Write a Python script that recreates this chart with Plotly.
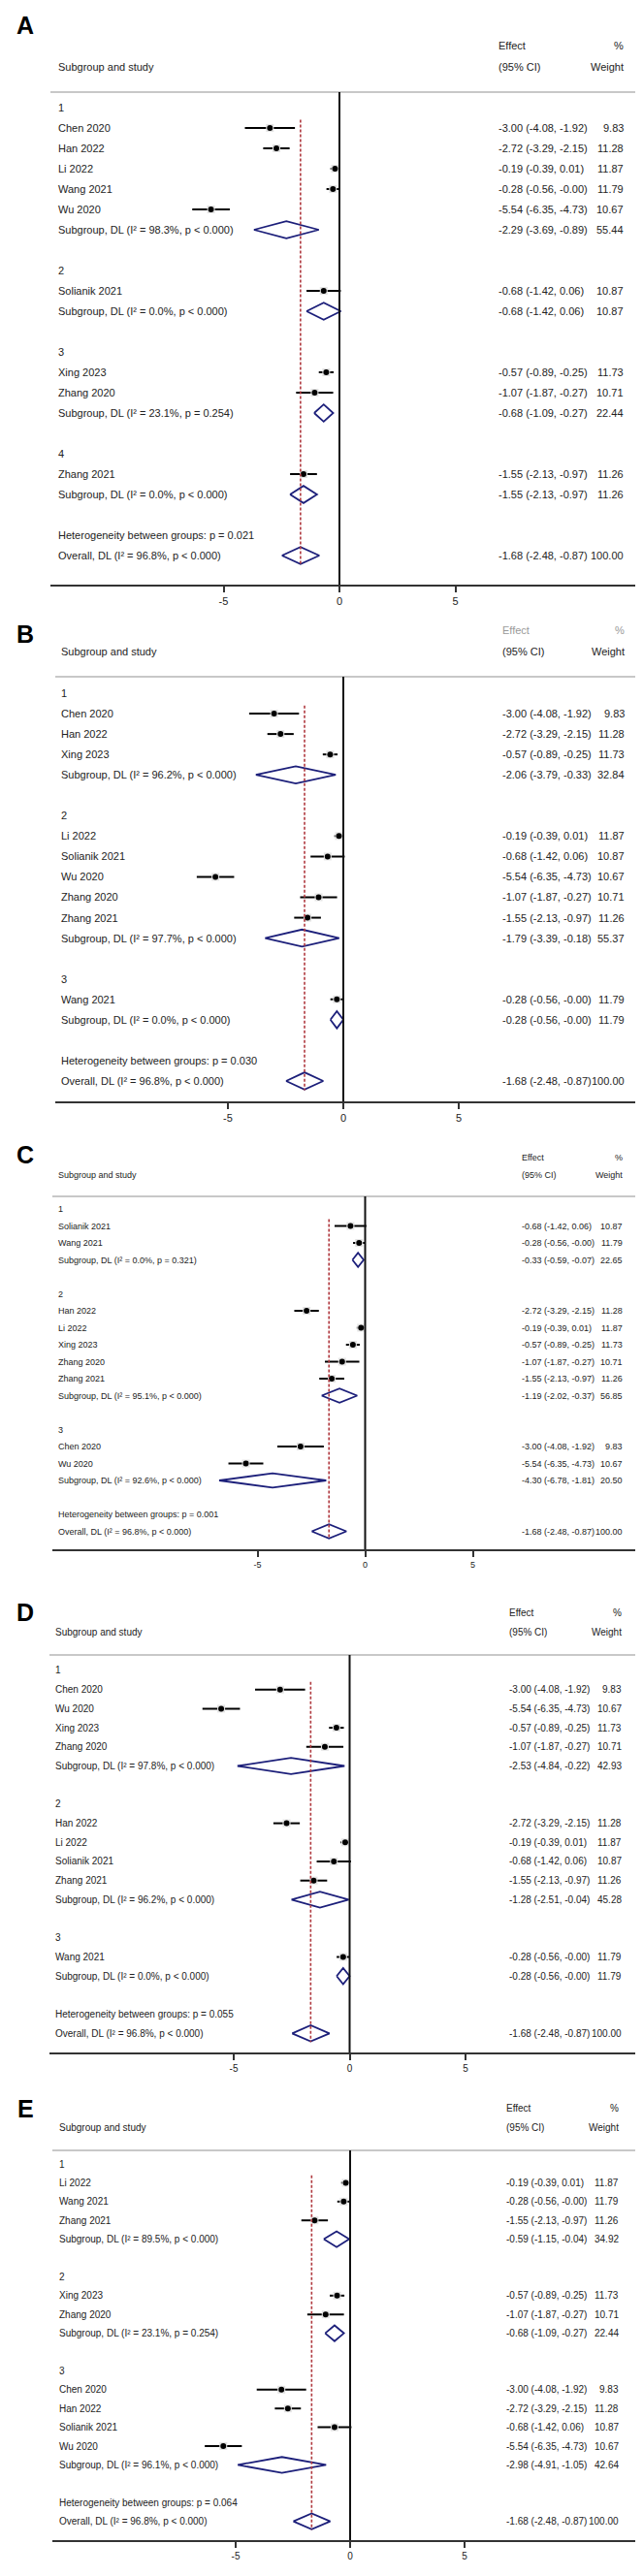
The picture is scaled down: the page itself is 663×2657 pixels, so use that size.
import plotly.graph_objects as go

W, H = 663, 2657
FONT = "Liberation Sans, Arial, sans-serif"

# study results: effect, 95% CI, % weight
study_names = ["Chen 2020", "Han 2022", "Li 2022", "Wang 2021", "Wu 2020",
               "Solianik 2021", "Xing 2023", "Zhang 2020", "Zhang 2021"]
study_est = [-3.00, -2.72, -0.19, -0.28, -5.54, -0.68, -0.57, -1.07, -1.55]
study_lo = [-4.08, -3.29, -0.39, -0.56, -6.35, -1.42, -0.89, -1.87, -2.13]
study_hi = [-1.92, -2.15, 0.01, -0.00, -4.73, 0.06, -0.25, -0.27, -0.97]
study_weight = [9.83, 11.28, 11.87, 11.79, 10.67, 10.87, 11.73, 10.71, 11.26]

overall_est = -1.68
overall_lo = -2.48
overall_hi = -0.87
overall_i2 = "96.8%"

# panel A
a_groups = [["Chen 2020", "Han 2022", "Li 2022", "Wang 2021", "Wu 2020"],
            ["Solianik 2021"], ["Xing 2023", "Zhang 2020"], ["Zhang 2021"]]
a_sub_est = [-2.29, -0.68, -0.68, -1.55]
a_sub_lo = [-3.69, -1.42, -1.09, -2.13]
a_sub_hi = [-0.89, 0.06, -0.27, -0.97]
a_sub_weight = [55.44, 10.87, 22.44, 11.26]
a_sub_i2 = ["98.3%", "0.0%", "23.1%", "0.0%"]
a_sub_p = ["p < 0.000", "p < 0.000", "p = 0.254", "p < 0.000"]
a_het_p = "0.021"

# panel B
b_groups = [["Chen 2020", "Han 2022", "Xing 2023"],
            ["Li 2022", "Solianik 2021", "Wu 2020", "Zhang 2020", "Zhang 2021"],
            ["Wang 2021"]]
b_sub_est = [-2.06, -1.79, -0.28]
b_sub_lo = [-3.79, -3.39, -0.56]
b_sub_hi = [-0.33, -0.18, -0.00]
b_sub_weight = [32.84, 55.37, 11.79]
b_sub_i2 = ["96.2%", "97.7%", "0.0%"]
b_sub_p = ["p < 0.000", "p < 0.000", "p < 0.000"]
b_het_p = "0.030"

# panel C
c_groups = [["Solianik 2021", "Wang 2021"],
            ["Han 2022", "Li 2022", "Xing 2023", "Zhang 2020", "Zhang 2021"],
            ["Chen 2020", "Wu 2020"]]
c_sub_est = [-0.33, -1.19, -4.30]
c_sub_lo = [-0.59, -2.02, -6.78]
c_sub_hi = [-0.07, -0.37, -1.81]
c_sub_weight = [22.65, 56.85, 20.50]
c_sub_i2 = ["0.0%", "95.1%", "92.6%"]
c_sub_p = ["p = 0.321", "p < 0.000", "p < 0.000"]
c_het_p = "0.001"

# panel D
d_groups = [["Chen 2020", "Wu 2020", "Xing 2023", "Zhang 2020"],
            ["Han 2022", "Li 2022", "Solianik 2021", "Zhang 2021"],
            ["Wang 2021"]]
d_sub_est = [-2.53, -1.28, -0.28]
d_sub_lo = [-4.84, -2.51, -0.56]
d_sub_hi = [-0.22, -0.04, -0.00]
d_sub_weight = [42.93, 45.28, 11.79]
d_sub_i2 = ["97.8%", "96.2%", "0.0%"]
d_sub_p = ["p < 0.000", "p < 0.000", "p < 0.000"]
d_het_p = "0.055"

# panel E
e_groups = [["Li 2022", "Wang 2021", "Zhang 2021"],
            ["Xing 2023", "Zhang 2020"],
            ["Chen 2020", "Han 2022", "Solianik 2021", "Wu 2020"]]
e_sub_est = [-0.59, -0.68, -2.98]
e_sub_lo = [-1.15, -1.09, -4.91]
e_sub_hi = [-0.04, -0.27, -1.05]
e_sub_weight = [34.92, 22.44, 42.64]
e_sub_i2 = ["89.5%", "23.1%", "96.1%"]
e_sub_p = ["p < 0.000", "p = 0.254", "p < 0.000"]
e_het_p = "0.064"

tick_vals = [-5, 0, 5]
tick_text = ["-5", "0", "5"]
note_text = "NOTE: Weights and between-subgroup heterogeneity test are from random-effects model"

# pixel geometry of each panel (zero position, px per unit, rows, headers)
panels = [
    dict(letter="A", groups=a_groups, est=a_sub_est, lo=a_sub_lo, hi=a_sub_hi, w=a_sub_weight,
         i2=a_sub_i2, p=a_sub_p, het=a_het_p,
         x0=342, ppu=23.9, xl=44, xr=654, r0=103, h=21.0, axis=595, lab=18, eff=39, sas=61,
         gray=87, note=628, tx=50, cx=504, wx=637, fs=11, nfs=8, effcol="#222"),
    dict(letter="B", groups=b_groups, est=b_sub_est, lo=b_sub_lo, hi=b_sub_hi, w=b_sub_weight,
         i2=b_sub_i2, p=b_sub_p, het=b_het_p,
         x0=346, ppu=23.8, xl=49, xr=658, r0=707, h=21.05, axis=1128, lab=646, eff=642, sas=664,
         gray=690, note=1165, tx=53, cx=508, wx=638, fs=11, nfs=7.8, effcol="#999"),
    dict(letter="C", groups=c_groups, est=c_sub_est, lo=c_sub_lo, hi=c_sub_hi, w=c_sub_weight,
         i2=c_sub_i2, p=c_sub_p, het=c_het_p,
         x0=368.5, ppu=22.2, xl=46, xr=650, r0=1239, h=17.5, axis=1590, lab=1183, eff=1186, sas=1204,
         gray=1226, note=1621, tx=50, cx=528, wx=636, fs=9, nfs=6.6, effcol="#222"),
    dict(letter="D", groups=d_groups, est=d_sub_est, lo=d_sub_lo, hi=d_sub_hi, w=d_sub_weight,
         i2=d_sub_i2, p=d_sub_p, het=d_het_p,
         x0=352.5, ppu=23.9, xl=43, xr=652, r0=1715, h=19.7, axis=2109, lab=1655, eff=1656, sas=1676,
         gray=1699, note=2144, tx=47, cx=515, wx=635, fs=10, nfs=7.4, effcol="#222"),
    dict(letter="E", groups=e_groups, est=e_sub_est, lo=e_sub_lo, hi=e_sub_hi, w=e_sub_weight,
         i2=e_sub_i2, p=e_sub_p, het=e_het_p,
         x0=353, ppu=23.6, xl=46, xr=648, r0=2224, h=19.4, axis=2612, lab=2167, eff=2166, sas=2186,
         gray=2210, note=2648, tx=51, cx=512, wx=632, fs=10, nfs=7.4, effcol="#222"),
]

NAVY = "#1c1f7a"
RED = "#b0393f"


def ci_text(e, l, h):
    return f"{e:.2f} ({l:.2f}, {h:.2f})"


def build_rows(groups):
    rows = []
    for gi, g in enumerate(groups):
        rows.append(("group", gi))
        for s in g:
            rows.append(("study", s))
        rows.append(("sub", gi))
        rows.append(("blank", None))
    rows.append(("het", None))
    rows.append(("overall", None))
    return rows


fig = go.Figure()
annotations = []
shapes = []
layout = {}

for k, pn in enumerate(panels, start=1):
    xa = "x" if k == 1 else f"x{k}"
    ya = "y" if k == 1 else f"y{k}"
    fs = pn["fs"]

    def rowof(py, pn=pn):
        return (py - pn["r0"]) / pn["h"]

    rows = build_rows(pn["groups"])
    n_over = len(rows) - 1

    def txt(x_px, y, text, anchor="left", size=fs, color="#222", yref=ya, bold=False):
        annotations.append(dict(
            x=x_px / W, xref="paper", y=y, yref=yref, text=text, showarrow=False,
            xanchor=anchor, yanchor="middle",
            font=dict(family=FONT, size=size, color=color,
                      weight="bold" if bold else "normal")))

    # headers
    txt(18, rowof(pn["lab"]), pn["letter"], anchor="center", size=25, color="black", bold=True)
    txt(pn["cx"], rowof(pn["eff"]), "Effect", color=pn["effcol"])
    txt(pn["wx"], rowof(pn["eff"]), "%", anchor="right", color=pn["effcol"])
    txt(pn["tx"], rowof(pn["sas"]), "Subgroup and study")
    txt(pn["cx"], rowof(pn["sas"]), "(95% CI)")
    txt(pn["wx"], rowof(pn["sas"]), "Weight", anchor="right")
    txt(pn["tx"] - 4, rowof(pn["note"]), note_text, size=pn["nfs"])

    shapes.append(dict(type="line", xref="paper", yref=ya, x0=pn["xl"] / W, x1=pn["xr"] / W,
                       y0=rowof(pn["gray"]), y1=rowof(pn["gray"]),
                       line=dict(color="#c8c8c8", width=2)))
    shapes.append(dict(type="line", xref=xa, yref=ya, x0=0, x1=0,
                       y0=rowof(pn["gray"]), y1=rowof(pn["axis"]),
                       line=dict(color="#111", width=2)))
    shapes.append(dict(type="line", xref=xa, yref=ya, x0=overall_est, x1=overall_est,
                       y0=0.6, y1=n_over + 0.45,
                       line=dict(color=RED, width=1.6, dash="3px,2px")))

    ci_x, ci_y, pt_x, pt_y = [], [], [], []
    for i, (kind, val) in enumerate(rows):
        if kind == "group":
            txt(pn["tx"], i, str(val + 1))
        elif kind == "study":
            j = study_names.index(val)
            ci_x += [study_lo[j], study_hi[j], None]
            ci_y += [i, i, None]
            pt_x.append(study_est[j])
            pt_y.append(i)
            txt(pn["tx"], i, val)
            txt(pn["cx"], i, ci_text(study_est[j], study_lo[j], study_hi[j]))
            txt(pn["wx"], i, f"{study_weight[j]:.2f}", anchor="right")
        elif kind == "sub":
            e, l, h = pn["est"][val], pn["lo"][val], pn["hi"][val]
            fig.add_trace(go.Scatter(
                x=[l, e, h, e, l], y=[i, i - 0.42, i, i + 0.42, i], mode="lines",
                fill="toself", fillcolor="white", line=dict(color=NAVY, width=1.8),
                xaxis=xa, yaxis=ya, hoverinfo="skip"))
            txt(pn["tx"], i, f"Subgroup, DL (I² = {pn['i2'][val]}, {pn['p'][val]})")
            txt(pn["cx"], i, ci_text(e, l, h))
            txt(pn["wx"], i, f"{pn['w'][val]:.2f}", anchor="right")
        elif kind == "het":
            txt(pn["tx"], i, f"Heterogeneity between groups: p = {pn['het']}")
        elif kind == "overall":
            fig.add_trace(go.Scatter(
                x=[overall_lo, overall_est, overall_hi, overall_est, overall_lo],
                y=[i, i - 0.42, i, i + 0.42, i], mode="lines",
                fill="toself", fillcolor="white", line=dict(color=NAVY, width=1.8),
                xaxis=xa, yaxis=ya, hoverinfo="skip"))
            txt(pn["tx"], i, f"Overall, DL (I² = {overall_i2}, p < 0.000)")
            txt(pn["cx"], i, ci_text(overall_est, overall_lo, overall_hi))
            txt(pn["wx"], i, "100.00", anchor="right")

    fig.add_trace(go.Scatter(x=ci_x, y=ci_y, mode="lines", line=dict(color="black", width=2),
                             xaxis=xa, yaxis=ya, hoverinfo="skip"))
    # faint weight box behind each point estimate
    fig.add_trace(go.Scatter(x=pt_x, y=pt_y, mode="markers",
                             marker=dict(color="#e4e4e4", size=8, symbol="square"),
                             xaxis=xa, yaxis=ya, hoverinfo="skip"))
    fig.add_trace(go.Scatter(x=pt_x, y=pt_y, mode="markers",
                             marker=dict(color="black", size=6, symbol="circle"),
                             xaxis=xa, yaxis=ya, hoverinfo="skip"))

    top = max(pn["lab"] - 16, 1)
    sfx = "" if k == 1 else str(k)
    layout["xaxis" + sfx] = dict(
        domain=[pn["xl"] / W, pn["xr"] / W],
        range=[(pn["xl"] - pn["x0"]) / pn["ppu"], (pn["xr"] - pn["x0"]) / pn["ppu"]],
        anchor=ya, showline=True, linecolor="#333", linewidth=2, ticks="outside",
        ticklen=6, tickwidth=1.5, tickcolor="#333", tickvals=tick_vals, ticktext=tick_text,
        showgrid=False, zeroline=False, tickfont=dict(family=FONT, size=fs, color="#222"))
    layout["yaxis" + sfx] = dict(
        domain=[1 - pn["axis"] / H, 1 - top / H],
        range=[rowof(pn["axis"]), rowof(top)],
        anchor=xa, visible=False, showgrid=False, zeroline=False)

fig.update_layout(
    width=W, height=H, margin=dict(l=0, r=0, t=0, b=0),
    paper_bgcolor="white", plot_bgcolor="white", showlegend=False,
    annotations=annotations, shapes=shapes, **layout)

fig.write_html("out.html")
